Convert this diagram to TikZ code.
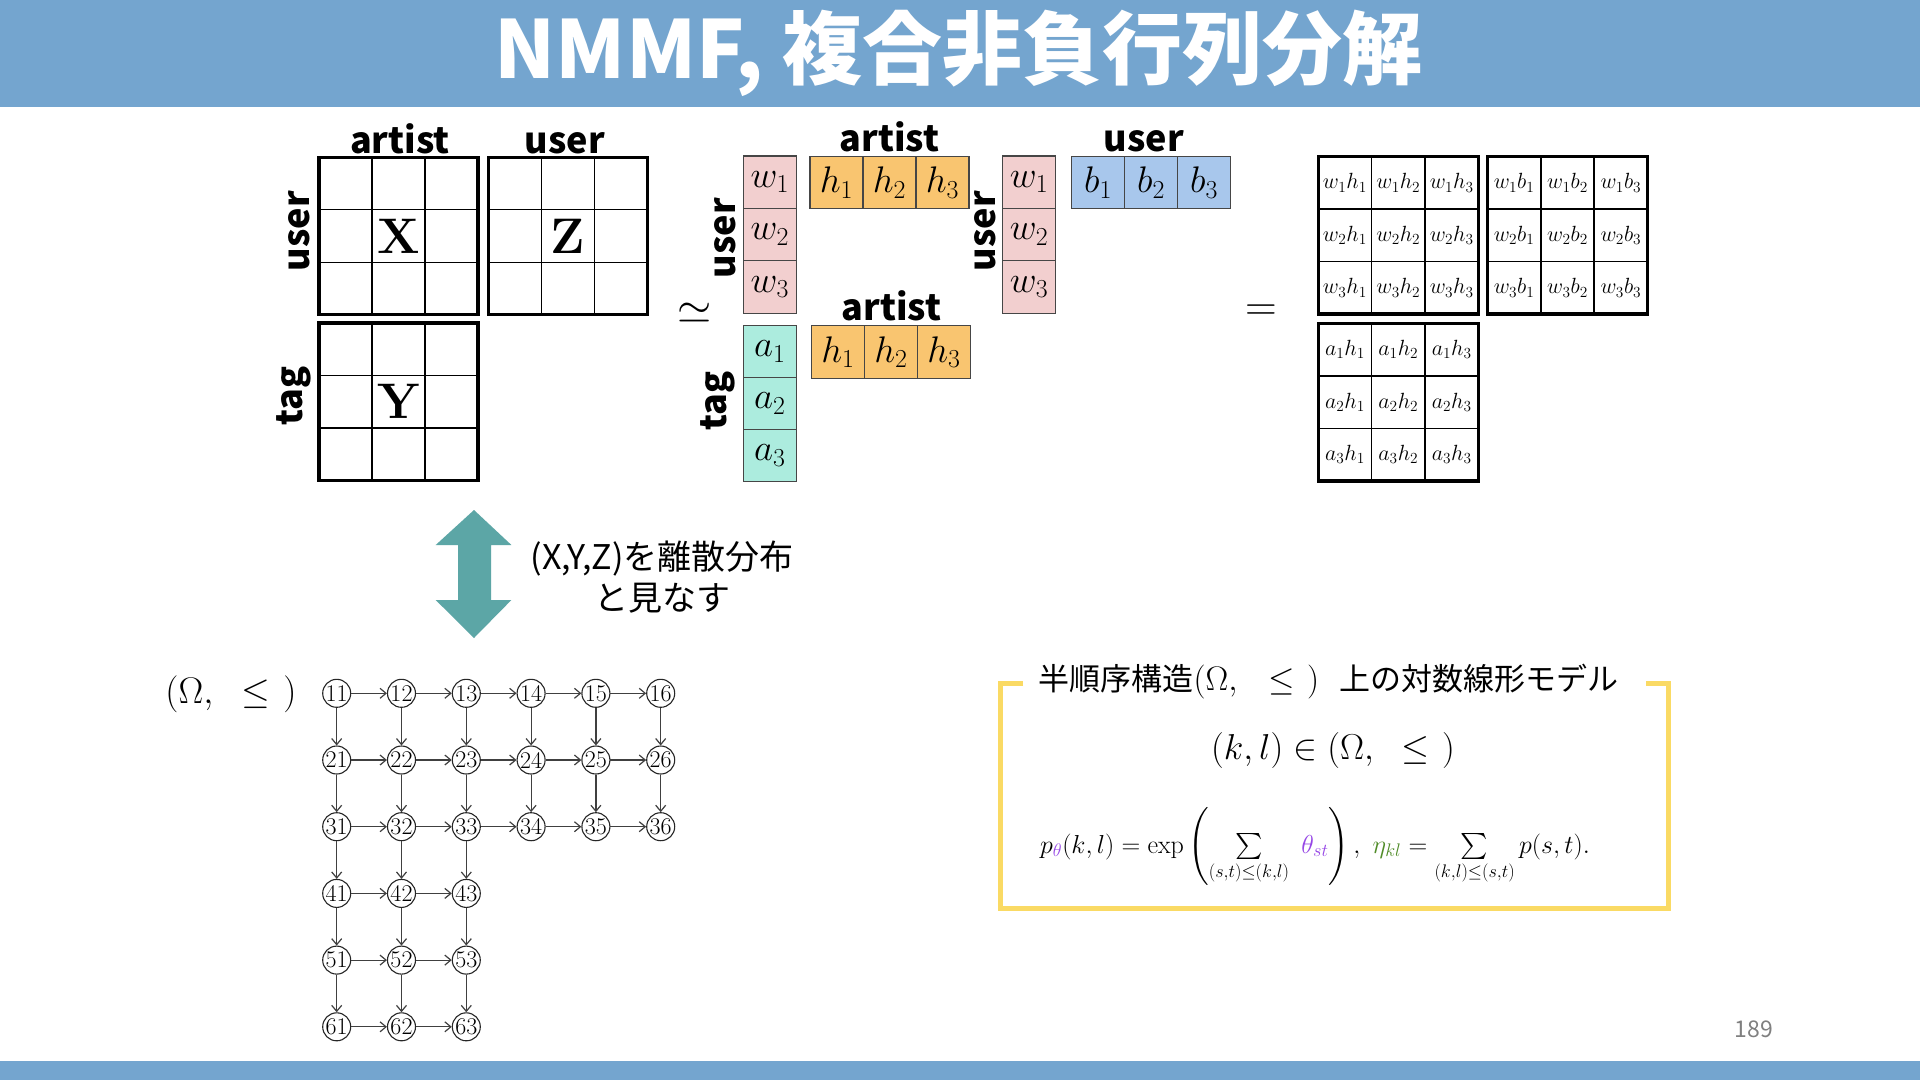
\RequirePackage{fix-cm}
\documentclass[tikz,border=0pt]{standalone}
\usepackage{amsmath,amssymb}
\usepackage{fontspec}
\newfontfamily\cjk{Noto Sans CJK JP}
\usetikzlibrary{arrows.meta}
\definecolor{hdr}{RGB}{116,165,207}
\definecolor{pinkc}{RGB}{242,207,207}
\definecolor{orangec}{RGB}{249,197,112}
\definecolor{bluec}{RGB}{168,199,236}
\definecolor{tealc}{RGB}{172,236,222}
\definecolor{arrowc}{RGB}{92,166,166}
\definecolor{yel}{RGB}{250,218,100}
\definecolor{vio}{RGB}{150,70,230}
\definecolor{grn}{RGB}{80,140,40}
\definecolor{celld}{RGB}{70,70,70}
\tikzset{
  gcell/.style={draw=black,line width=1.2pt,minimum width=53pt,minimum height=52.5pt,inner sep=0pt},
  pcell/.style={gcell,font=\fontsize{22}{22}\selectfont},
  gbox/.style={draw=black,line width=3.4pt,minimum width=159pt,minimum height=157.5pt,inner sep=0pt},
  fcell/.style={draw=celld,line width=1.2pt,minimum width=53pt,minimum height=52.4pt,inner sep=0pt,font=\fontsize{37}{37}\selectfont},
  lbl/.style={font=\cjk\bfseries\fontsize{36}{36}\selectfont,inner sep=0pt},
  gn/.style={circle,draw=black!85,line width=1.1pt,minimum size=28pt,inner sep=0pt,font=\fontsize{24}{24}\selectfont},
  ge/.style={draw=black!75,line width=1.2pt,-{Straight Barb[length=6pt,width=10pt]}},
  ybr/.style={draw=yel,line width=5pt},
}
\newcommand{\gridmat}[3]{%
  \foreach \i in {1,2,3}{\foreach \j in {1,2,3}{
    \node[gcell] (#1c\j\i) at ({#2+(\i-2)*53},{#3+(\j-2)*52.5}) {};}}
  \node[gbox] (#1) at (#2,#3) {};
}
\newcommand{\prodmat}[5]{%
  \foreach \i in {1,2,3}{\foreach \j in {1,2,3}{
    \node[pcell] (#1c\j\i) at ({#2+(\i-2)*53.4},{#3+(\j-2)*52.5}) {$#4_{\j}#5_{\i}$};}}
  \node[gbox,minimum width=160pt] (#1) at (#2,#3) {};
}
\begin{document}
\begin{tikzpicture}[x=1pt,y=-1pt]
\useasboundingbox (0,0) rectangle (1920,1080);
\fill[white] (0,0) rectangle (1920,1080);
% header and footer
\fill[hdr] (0,0) rectangle (1920,107);
\fill[hdr] (0,1061) rectangle (1920,1080);
\node[text=white,font=\cjk\bfseries\fontsize{80}{80}\selectfont,inner sep=0pt] (title) at (958.5,53) {NMMF, 複合非負行列分解};
% left matrices
\gridmat{X}{398.5}{236}
\gridmat{Z}{568}{236}
\gridmat{Y}{398.5}{401.7}
\node[font=\bfseries\fontsize{50}{50}\selectfont] (tX) at (Xc22) {X};
\node[font=\bfseries\fontsize{50}{50}\selectfont] (tZ) at (Zc22) {Z};
\node[font=\bfseries\fontsize{50}{50}\selectfont] (tY) at (Yc22) {Y};
\node[lbl,anchor=base] (la1) at (400,153) {artist};
\node[lbl,anchor=base] (lu1) at (565,153) {user};
\node[lbl,rotate=90] (lu2) at (299,231) {user};
\node[lbl,rotate=90] (lt1) at (294,396) {tag};
% approx symbol
\node[font=\fontsize{44}{44}\selectfont,inner sep=0pt] (approx) at (695,313) {$\simeq$};
% factor cells
\foreach \k in {1,2,3}{
  \node[fcell,fill=pinkc] (wl\k) at (769.8,{182.2+52.4*(\k-1)}) {$w_{\k}$};
  \node[fcell,fill=tealc] (al\k) at (769.8,{351.3+52*(\k-1)}) {$a_{\k}$};
  \node[fcell,fill=orangec] (ht\k) at ({836.5+53*(\k-1)},182.5) {$h_{\k}$};
  \node[fcell,fill=orangec] (hb\k) at ({838+53*(\k-1)},352) {$h_{\k}$};
  \node[fcell,fill=pinkc] (wr\k) at (1029,{182.2+52.4*(\k-1)}) {$w_{\k}$};
  \node[fcell,fill=bluec] (b\k) at ({1098+53*(\k-1)},182.5) {$b_{\k}$};
}
\node[lbl,anchor=base] (la2) at (889.6,151.5) {artist};
\node[lbl,anchor=base] (lu3) at (1144,151.5) {user};
\node[lbl,anchor=base] (la3) at (891.5,320) {artist};
\node[lbl,rotate=90] (lu4) at (725,238) {user};
\node[lbl,rotate=90] (lu5) at (985,231) {user};
\node[lbl,rotate=90] (lt2) at (718,401) {tag};
% equals
\node[font=\fontsize{44}{44}\selectfont,inner sep=0pt] (eq) at (1261,313) {$=$};
% product matrices
\prodmat{WH}{1398.3}{235.3}{w}{h}
\prodmat{WB}{1567.5}{235.3}{w}{b}
\prodmat{AH}{1398.3}{402.2}{a}{h}
% double arrow
\fill[arrowc] (474,510) -- (511.4,545) -- (491,545) -- (491,600) -- (511.4,600) -- (474,638) -- (435.7,600) -- (458,600) -- (458,545) -- (435.7,545) -- cycle;
\node[font=\cjk\fontsize{34}{41}\selectfont,align=center,inner sep=0pt] (desc) at (662,577) {(X,Y,Z)を離散分布\\と見なす};
% poset label
\node[font=\fontsize{37}{37}\selectfont,inner sep=0pt] (om) at (231,694) {$(\Omega,\hspace{0.6em}\leq\hspace{0.35em})$};
% lattice graph
\foreach \r in {1,2,3}{\foreach \c in {1,...,6}{
  \node[gn] (n\r\c) at ({336.7+64.8*(\c-1)},{693.3+66.7*(\r-1)}) {\r\c};}}
\foreach \r in {4,5,6}{\foreach \c in {1,2,3}{
  \node[gn] (n\r\c) at ({336.7+64.8*(\c-1)},{693.3+66.7*(\r-1)}) {\r\c};}}
\foreach \r in {1,2,3}{\foreach \c [evaluate=\c as \d using int(\c+1)] in {1,...,5}{
  \draw[ge] (n\r\c) -- (n\r\d);}}
\foreach \r in {4,5,6}{\foreach \c [evaluate=\c as \d using int(\c+1)] in {1,2}{
  \draw[ge] (n\r\c) -- (n\r\d);}}
\foreach \c in {1,...,6}{\foreach \r [evaluate=\r as \s using int(\r+1)] in {1,2}{
  \draw[ge] (n\r\c) -- (n\s\c);}}
\foreach \c in {1,2,3}{\foreach \r [evaluate=\r as \s using int(\r+1)] in {3,4,5}{
  \draw[ge] (n\r\c) -- (n\s\c);}}
% formula box
\coordinate (bl1) at (1023,683.3);
\coordinate (bl2) at (1000,683.3);
\coordinate (bl3) at (1000,908.3);
\coordinate (bl4) at (1668,908.3);
\coordinate (bl5) at (1668,683.3);
\coordinate (bl6) at (1645.7,683.3);
\draw[ybr,line join=miter] (bl1) -- (bl2) -- (bl3) -- (bl4) -- (bl5) -- (bl6);
\node[inner sep=0pt] (boxtitle) at (1328.5,682) {\cjk\fontsize{31}{31}\selectfont 半順序構造\fontsize{34}{34}\selectfont$(\Omega,\hspace{0.75em}\leq\hspace{0.35em})$\hspace{0.6em}\fontsize{31}{31}\selectfont 上の対数線形モデル};
\node[font=\fontsize{36}{36}\selectfont,inner sep=0pt] (kl) at (1333,750) {$(k,l)\in(\Omega,\hspace{0.6em}\leq\hspace{0.35em})$};
\node[font=\fontsize{26}{26}\selectfont,inner sep=0pt,anchor=base west] (form) at (1040,853) {$p_{\color{vio}\theta}(k,l) = \exp\left(\sum\limits_{(s,t)\leq(k,l)}\ {\color{vio}\theta_{st}}\right),\ {\color{grn}\eta_{kl}} = \sum\limits_{(k,l)\leq(s,t)} p(s,t).$};
% page number
\node[text=black!50,font=\cjk\fontsize{23}{23}\selectfont,inner sep=0pt] (pg) at (1754,1029) {189};
\end{tikzpicture}
\end{document}
